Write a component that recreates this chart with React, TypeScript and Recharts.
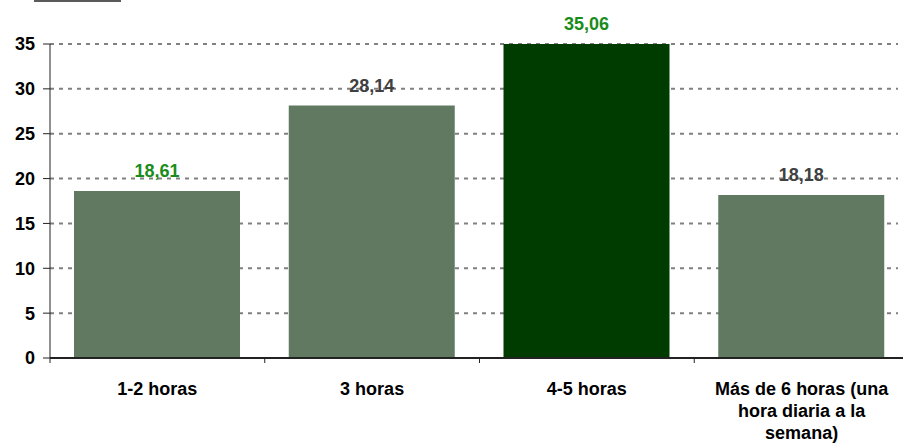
import { Bar, BarChart, CartesianGrid, Cell, LabelList, Text, XAxis, YAxis } from "recharts";

const categories = ["1-2 horas", "3 horas", "4-5 horas", "Más de 6 horas (una hora diaria a la semana)"];
const values = [18.61, 28.14, 35.06, 18.18];
const barColors = ["#617961", "#617961", "#003c00", "#617961"];
const labelColors = ["#1a8c1a", "#404040", "#1a8c1a", "#404040"];
const yTicks = [0, 5, 10, 15, 20, 25, 30, 35];

const data = categories.map((name, i) => ({ name, value: values[i] }));

const FONT = "'Liberation Sans', Arial, sans-serif";
const textStyle = { fontFamily: FONT, fontWeight: "bold" as const, fontSize: 18 };

function CategoryTick(props: any) {
  const { x, y, payload } = props;
  const half = payload?.offset ?? 107;
  return (
    <g>
      <line x1={x - half} x2={x - half} y1={y} y2={y + 5} stroke="#222" strokeWidth={1} />
      <Text
        x={x}
        y={y + 24}
        width={182}
        textAnchor="middle"
        verticalAnchor="start"
        lineHeight={22}
        style={textStyle}
        fill="#000"
      >
        {payload.value}
      </Text>
    </g>
  );
}

function ValueLabel(props: any) {
  const { x, y, width, value, index } = props;
  return (
    <text
      x={x + width / 2}
      y={Math.max(y, 44) - 14}
      textAnchor="middle"
      style={textStyle}
      fill={labelColors[index]}
    >
      {String(value).replace(".", ",")}
    </text>
  );
}

function GridLine(props: any) {
  const { x1, y1, x2, y2, index } = props;
  return (
    <line
      key={`grid-${index}`}
      x1={x1}
      x2={Math.min(x2, 898)}
      y1={y1}
      y2={y2}
      stroke="#808080"
      strokeWidth={2}
      strokeDasharray="4 5"
    />
  );
}

export default function App() {
  return (
    <div
      style={{
        position: "fixed",
        left: 0,
        top: 0,
        width: 903,
        height: 446,
        overflow: "hidden",
        background: "#fff",
      }}
    >
      <div style={{ position: "absolute", left: 34, top: 0, width: 87, height: 2, background: "#5a5a5a" }} />
      <BarChart
        width={925}
        height={446}
        data={data}
        margin={{ top: 44, right: 16, bottom: 8, left: 0 }}
        barSize={166}
      >
        <CartesianGrid vertical={false} horizontal={GridLine as any} />
        <XAxis
          dataKey="name"
          height={80}
          axisLine={{ stroke: "#222", strokeWidth: 2 }}
          tickLine={false}
          tickSize={0}
          tickMargin={0}
          interval={0}
          tick={<CategoryTick />}
        />
        <YAxis
          width={50}
          domain={[0, 35]}
          ticks={yTicks}
          allowDataOverflow
          axisLine={{ stroke: "#222", strokeWidth: 1 }}
          tickLine={{ stroke: "#222", strokeWidth: 1 }}
          tickSize={7}
          tickMargin={8}
          tick={{ ...textStyle, fill: "#000" }}
        />
        <Bar dataKey="value" isAnimationActive={false}>
          {data.map((_, i) => (
            <Cell key={i} fill={barColors[i]} />
          ))}
          <LabelList dataKey="value" content={<ValueLabel />} />
        </Bar>
      </BarChart>
    </div>
  );
}
